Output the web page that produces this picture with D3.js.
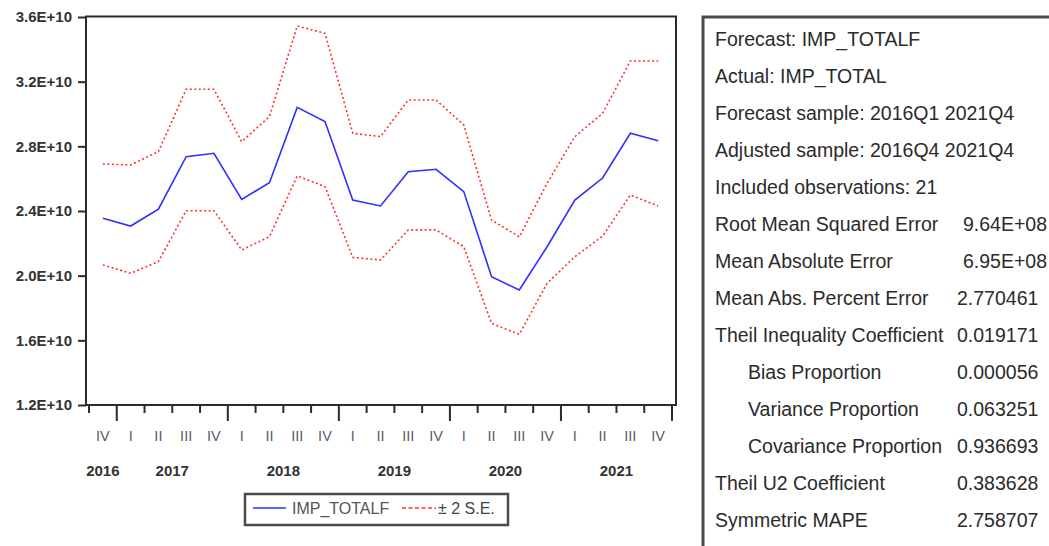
<!DOCTYPE html>
<html>
<head>
<meta charset="utf-8">
<script src="https://cdn.jsdelivr.net/npm/d3@7/dist/d3.min.js"></script>
<style>
  body { margin: 0; background: #fff; }
  svg { display: block; }
  text { font-family: "Liberation Sans", Arial, sans-serif; }
</style>
</head>
<body>
<svg id="chart" width="1049" height="546"></svg>
<script>
// Quarterly forecast of IMP_TOTAL, 2016Q4 - 2021Q4
const quarterLabels = ["IV","I","II","III","IV","I","II","III","IV","I","II","III","IV","I","II","III","IV","I","II","III","IV"];
const quarterYears  = [2016,2017,2017,2017,2017,2018,2018,2018,2018,2019,2019,2019,2019,2020,2020,2020,2020,2021,2021,2021,2021];

const forecast  = [2.355e10, 2.307e10, 2.411e10, 2.736e10, 2.757e10, 2.472e10, 2.575e10, 3.041e10, 2.953e10, 2.468e10, 2.431e10,
                   2.643e10, 2.658e10, 2.520e10, 1.994e10, 1.911e10, 2.179e10, 2.468e10, 2.604e10, 2.881e10, 2.835e10];
const upperBand = [2.691e10, 2.685e10, 2.767e10, 3.153e10, 3.153e10, 2.829e10, 2.984e10, 3.545e10, 3.499e10, 2.881e10, 2.860e10,
                   3.087e10, 3.087e10, 2.932e10, 2.344e10, 2.240e10, 2.571e10, 2.860e10, 3.004e10, 3.328e10, 3.328e10];
const lowerBand = [2.066e10, 2.015e10, 2.087e10, 2.402e10, 2.402e10, 2.159e10, 2.241e10, 2.617e10, 2.551e10, 2.113e10, 2.097e10,
                   2.283e10, 2.283e10, 2.179e10, 1.705e10, 1.637e10, 1.953e10, 2.117e10, 2.245e10, 2.499e10, 2.431e10];

const yTicks = [1.2e10, 1.6e10, 2.0e10, 2.4e10, 2.8e10, 3.2e10, 3.6e10];

const legendNames = ["IMP_TOTALF", "\u00B1 2 S.E."];

const statLabels = [
  "Forecast: IMP_TOTALF",
  "Actual: IMP_TOTAL",
  "Forecast sample: 2016Q1 2021Q4",
  "Adjusted sample: 2016Q4 2021Q4",
  "Included observations: 21",
  "Root Mean Squared Error",
  "Mean Absolute Error",
  "Mean Abs. Percent Error",
  "Theil Inequality Coefficient",
  "Bias Proportion",
  "Variance Proportion",
  "Covariance Proportion",
  "Theil U2 Coefficient",
  "Symmetric MAPE"
];
const statValues = ["", "", "", "", "", "9.64E+08", "6.95E+08", "2.770461", "0.019171",
                    "0.000056", "0.063251", "0.936693", "0.383628", "2.758707"];

const svg = d3.select("#chart");

// plot frame
const frame = { left: 86, top: 16.5, right: 676, bottom: 405 };
const idx = d3.range(forecast.length);
const x = d3.scaleBand().domain(idx).range([89, 672]).paddingInner(0).paddingOuter(0);
const cx = i => x(i) + x.bandwidth() / 2;
const y = d3.scaleLinear().domain([1.2e10, 3.6e10]).range([405, 17]);

const ink = "#2b2b2b";

// y axis with labels like 3.6E+10
const yAxis = d3.axisLeft(y).tickValues(yTicks).tickSize(8).tickPadding(6)
  .tickFormat(d => (d / 1e10).toFixed(1) + "E+10");
const gy = svg.append("g").attr("transform", `translate(${frame.left},0)`).call(yAxis);
gy.select(".domain").remove();
gy.selectAll(".tick line").attr("stroke", ink).attr("stroke-width", 2);
gy.selectAll(".tick text").attr("fill", "#333").attr("font-size", 15).attr("font-weight", "bold");

// frame box
svg.append("rect")
  .attr("x", frame.left).attr("y", frame.top)
  .attr("width", frame.right - frame.left).attr("height", frame.bottom - frame.top)
  .attr("fill", "none").attr("stroke", ink).attr("stroke-width", 2);

// x ticks at quarter boundaries; longer ones at year boundaries
const bounds = d3.range(forecast.length + 1);
svg.append("g").selectAll("line").data(bounds).join("line")
  .attr("x1", k => x.range()[0] + k * x.bandwidth())
  .attr("x2", k => x.range()[0] + k * x.bandwidth())
  .attr("y1", frame.bottom)
  .attr("y2", k => (k === forecast.length || quarterLabels[k] === "I") ? frame.bottom + 16 : frame.bottom + 8)
  .attr("stroke", ink).attr("stroke-width", 2);

// quarter labels
svg.append("g").selectAll("text").data(quarterLabels).join("text")
  .attr("x", (d, i) => cx(i)).attr("y", 441)
  .attr("text-anchor", "middle").attr("font-size", 14.5)
  .attr("fill", "#5a5a6a").text(d => d);

// year labels centred under their quarters
const years = Array.from(d3.group(idx, i => quarterYears[i]), ([yr, is]) => ({ yr, mid: d3.mean(is, cx) }));
svg.append("g").selectAll("text").data(years).join("text")
  .attr("x", d => d.mid).attr("y", 476)
  .attr("text-anchor", "middle").attr("font-size", 15).attr("font-weight", "bold")
  .attr("fill", "#333").text(d => d.yr);

// series
const line = d3.line().x((d, i) => cx(i)).y(d => y(d));
svg.append("path").datum(upperBand).attr("d", line)
  .attr("fill", "none").attr("stroke", "#ff3030").attr("stroke-width", 1.6).attr("stroke-dasharray", "2,2.5");
svg.append("path").datum(lowerBand).attr("d", line)
  .attr("fill", "none").attr("stroke", "#ff3030").attr("stroke-width", 1.6).attr("stroke-dasharray", "2,2.5");
svg.append("path").datum(forecast).attr("d", line)
  .attr("fill", "none").attr("stroke", "#2f2fff").attr("stroke-width", 1.6);

// legend
const lg = svg.append("g");
lg.append("rect").attr("x", 245).attr("y", 494).attr("width", 263).attr("height", 31)
  .attr("fill", "#fff").attr("stroke", "#4a4a4a").attr("stroke-width", 2.5);
lg.append("line").attr("x1", 253).attr("x2", 286).attr("y1", 508).attr("y2", 508)
  .attr("stroke", "#2f2fff").attr("stroke-width", 1.6);
lg.append("text").attr("x", 292).attr("y", 514).attr("font-size", 16).attr("fill", "#555")
  .text(legendNames[0]);
lg.append("line").attr("x1", 402).attr("x2", 436).attr("y1", 508).attr("y2", 508)
  .attr("stroke", "#ff3030").attr("stroke-width", 1.6).attr("stroke-dasharray", "4,2.5");
lg.append("text").attr("x", 438).attr("y", 514).attr("font-size", 16).attr("fill", "#444")
  .text(legendNames[1]);

// forecast evaluation table
const tb = svg.append("g");
tb.append("rect").attr("x", 703).attr("y", 17).attr("width", 420).attr("height", 600)
  .attr("fill", "#fff").attr("stroke", "#4a4a4a").attr("stroke-width", 3);
const rowY = i => 46 + 37 * i;
tb.selectAll("text.lab").data(statLabels).join("text").attr("class", "lab")
  .attr("x", d => d.endsWith("Proportion") ? 748 : 715)
  .attr("y", (d, i) => rowY(i))
  .attr("font-size", 19.5).attr("fill", ink).text(d => d);
tb.selectAll("text.val").data(statValues).join("text").attr("class", "val")
  .attr("x", d => d.includes("E") ? 963 : 957)
  .attr("y", (d, i) => rowY(i))
  .attr("font-size", 19.5).attr("fill", ink).text(d => d);
</script>
</body>
</html>
